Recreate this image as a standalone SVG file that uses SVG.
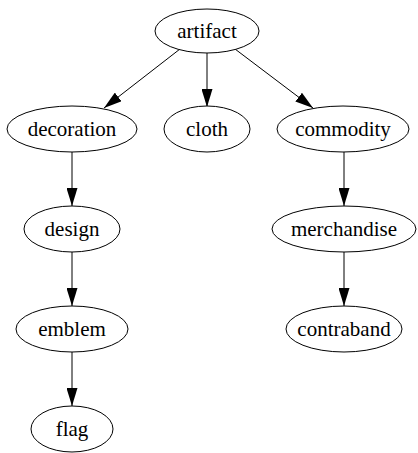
<svg xmlns="http://www.w3.org/2000/svg" width="418" height="453" viewBox="0 0 418 453">
<defs>
<marker id="ahl" viewBox="0 0 18 11" refX="18" refY="5.5" markerWidth="18" markerHeight="11" markerUnits="userSpaceOnUse" orient="auto">
<path d="M0,0 L18,5.5 L0,11 z" fill="#000"/>
</marker>
</defs>
<style>
ellipse{fill:#fff;stroke:#000;stroke-width:1}
text{font-family:"Liberation Serif","Times New Roman",serif;font-size:21px;fill:#000;text-anchor:middle;dominant-baseline:central}
.e{stroke:#000;stroke-width:1;fill:none;marker-end:url(#ahl)}
</style>
<rect width="418" height="453" fill="#fff"/>
<g id="edges">
<line class="e" x1="207" y1="53" x2="207" y2="107"/>
<line class="e" x1="180" y1="49" x2="104" y2="108"/>
<line class="e" x1="235" y1="49" x2="313" y2="108"/>
<line class="e" x1="72" y1="152" x2="72" y2="206"/>
<line class="e" x1="72" y1="252" x2="72" y2="306"/>
<line class="e" x1="72" y1="352" x2="72" y2="406"/>
<line class="e" x1="344" y1="152" x2="344" y2="206"/>
<line class="e" x1="344" y1="252" x2="344" y2="306"/>
</g>
<g id="artifact"><ellipse cx="207" cy="31" rx="52" ry="22"/><text x="207" y="31">artifact</text></g>
<g id="decoration"><ellipse cx="72" cy="129" rx="65" ry="23"/><text x="72" y="129">decoration</text></g>
<g id="cloth"><ellipse cx="207" cy="129" rx="43" ry="23"/><text x="207" y="129">cloth</text></g>
<g id="commodity"><ellipse cx="343" cy="129" rx="66" ry="23"/><text x="343" y="129">commodity</text></g>
<g id="design"><ellipse cx="72" cy="229" rx="48" ry="23"/><text x="72" y="229">design</text></g>
<g id="merchandise"><ellipse cx="344" cy="229" rx="72" ry="23"/><text x="344" y="229">merchandise</text></g>
<g id="emblem"><ellipse cx="72" cy="329" rx="56" ry="23"/><text x="72" y="329">emblem</text></g>
<g id="contraband"><ellipse cx="344" cy="329" rx="58" ry="23"/><text x="344" y="329">contraband</text></g>
<g id="flag"><ellipse cx="72" cy="429" rx="41" ry="23"/><text x="72" y="429">flag</text></g>
</svg>
